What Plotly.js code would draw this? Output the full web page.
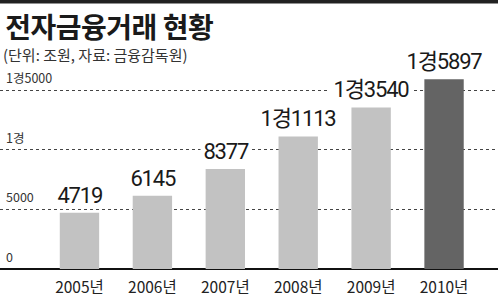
<!DOCTYPE html>
<html>
<head>
<meta charset="utf-8">
<script src="https://cdn.plot.ly/plotly-3.0.1.min.js"></script>
<style>
html,body{margin:0;padding:0;background:#fff;}#chart{width:498px;height:299px;}
.annotation[data-index="4"] text,.annotation[data-index="5"] text,.annotation[data-index="6"] text,
.annotation[data-index="7"] text,.annotation[data-index="8"] text,.annotation[data-index="9"] text{letter-spacing:-1.2px;}
.annotation[data-index="10"] text{letter-spacing:-0.5px;}
</style>
</head>
<body>
<div id="chart"></div>
<script>
const years = ["2005년", "2006년", "2007년", "2008년", "2009년", "2010년"];
const values = [4719, 6145, 8377, 11113, 13540, 15897];
const valueLabels = ["4719", "6145", "8377", "1경1113", "1경3540", "1경5897"];
const barColors = ["#c2c2c2", "#c2c2c2", "#c2c2c2", "#c2c2c2", "#c2c2c2", "#646464"];
const yTickVals = [0, 5000, 10000, 15000];
const yTickText = ["0", "5000", "1경", "1경5000"];
const titleText = "전자금융거래 현황";
const subtitleText = "(단위: 조원, 자료: 금융감독원)";

const KR = '"Noto Sans CJK KR", "Noto Sans", sans-serif';
const NUM = 'Roboto, "Noto Sans CJK KR", sans-serif';

const trace = {
  type: "bar",
  x: years,
  y: values,
  marker: {color: barColors},
  width: 0.54,
  hoverinfo: "skip"
};

const annotations = yTickVals.map((v, i) => ({
  xref: "paper", yref: "y", x: 0.008, y: v, xanchor: "left", yanchor: "bottom",
  yshift: 1, text: yTickText[i], showarrow: false,
  font: {family: KR, size: 12.5, color: "#333"}
}));
years.forEach((yr, i) => annotations.push({
  xref: "x", yref: "y", x: yr, y: values[i], xanchor: "center", yanchor: "bottom",
  yshift: 4, text: valueLabels[i], showarrow: false, bgcolor: "#fff", borderpad: 0,
  font: {family: NUM, size: 22, color: "#1a1a1a"}
}));
annotations.push({
  xref: "paper", yref: "paper", x: 0.002, y: 1 - 5/299, xanchor: "left", yanchor: "top",
  text: "<b>" + titleText + "</b>", showarrow: false,
  font: {family: KR, size: 28, color: "#1a1a1a"}
});
annotations.push({
  xref: "paper", yref: "paper", x: 0.002, y: 1 - 47/299, xanchor: "left", yanchor: "top",
  text: subtitleText, showarrow: false,
  font: {family: KR, size: 15, color: "#333"}
});

const layout = {
  width: 498, height: 299,
  margin: {l: 0, r: 0, t: 0, b: 30},
  paper_bgcolor: "#fff", plot_bgcolor: "#fff",
  showlegend: false,
  xaxis: {
    type: "category", range: [-1.09, 5.74], fixedrange: true,
    showgrid: false, zeroline: false, showline: false, ticks: "",
    ticklabelstandoff: 7,
    tickfont: {family: KR, size: 15.5, color: "#222"}
  },
  yaxis: {
    range: [0, 22550], fixedrange: true,
    tickvals: yTickVals, showticklabels: false,
    showgrid: true, gridcolor: "#444", gridwidth: 1, griddash: "dot",
    zeroline: true, zerolinecolor: "#111", zerolinewidth: 2
  },
  shapes: [
    {type: "rect", xref: "paper", yref: "paper", x0: 0, x1: 1, y0: 1 - 4/299, y1: 1,
     fillcolor: "#222", line: {width: 0}}
  ],
  annotations: annotations
};

Plotly.newPlot("chart", [trace], layout, {staticPlot: true, displayModeBar: false});
</script>
</body>
</html>
